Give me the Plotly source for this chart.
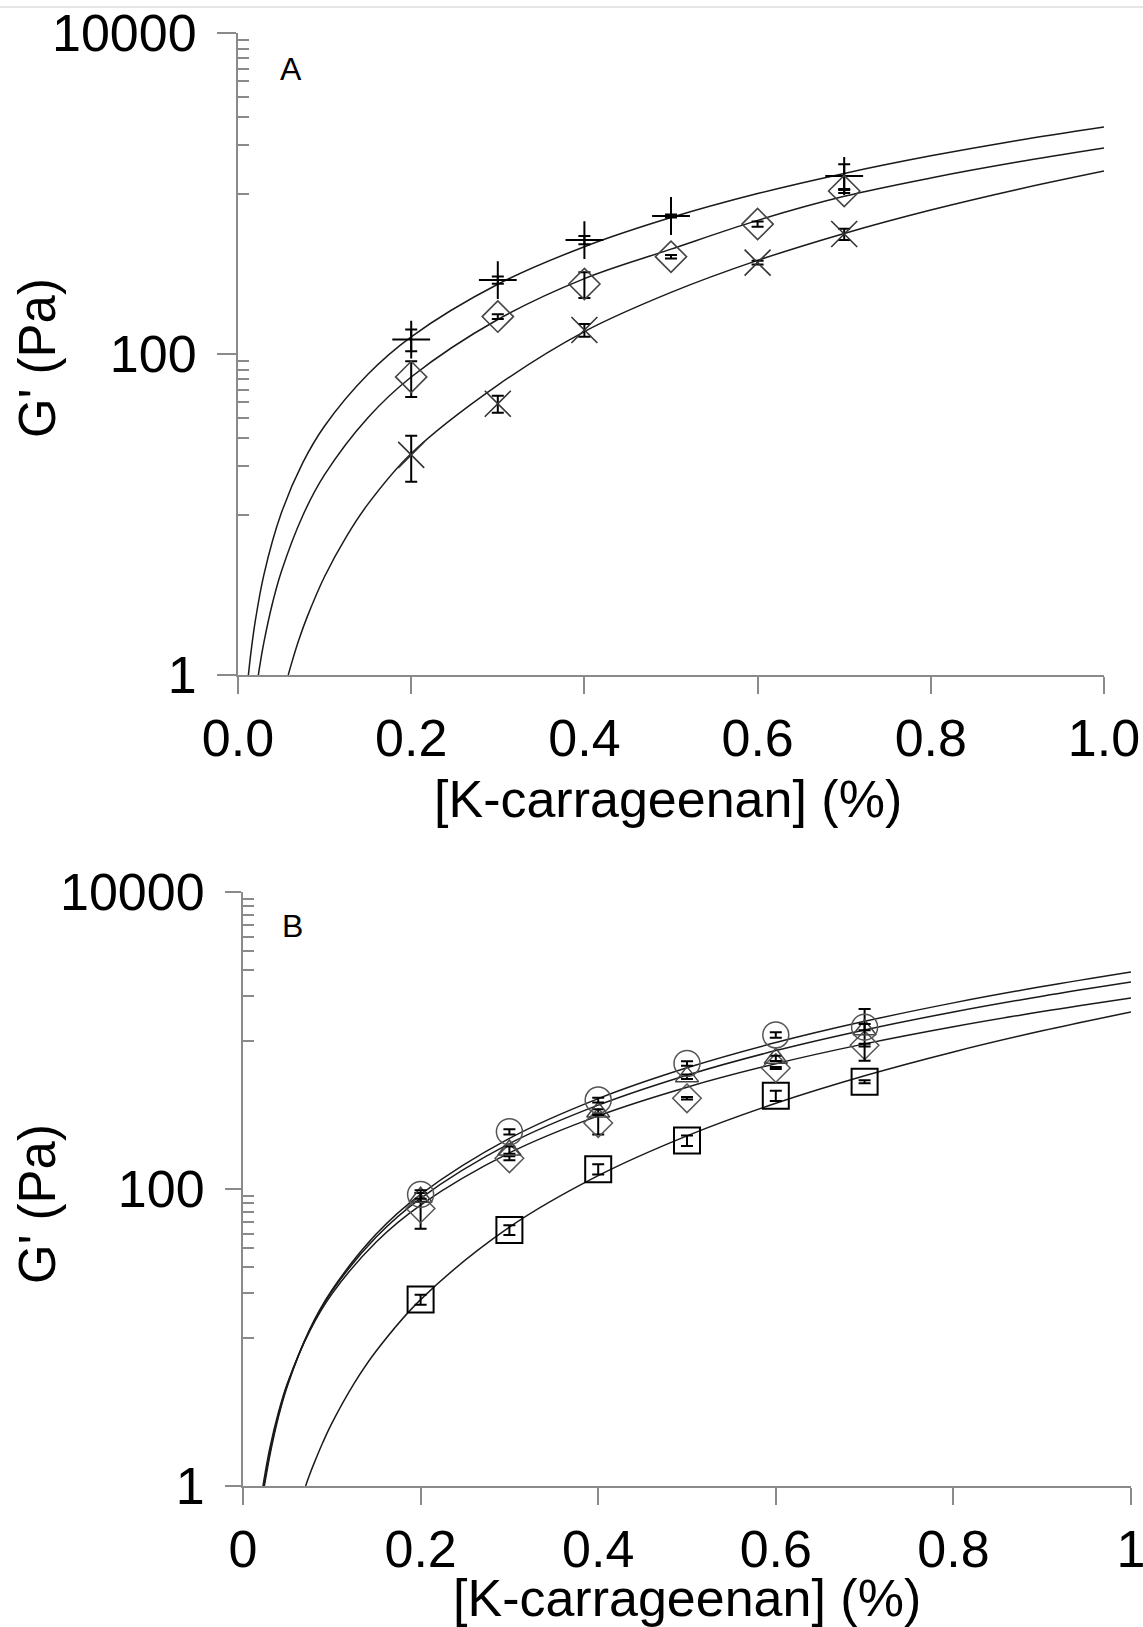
import plotly.graph_objects as go

W, H = 1143, 1627

# ---------------- Panel A data ----------------
conc_A_plus = [0.2, 0.3, 0.4, 0.5, 0.7]
g_A_plus = [123, 289, 513, 724, 1285]
err_A_plus = [19, 15, 30, 15, 235]

conc_A_diam = [0.2, 0.3, 0.4, 0.5, 0.6, 0.7]
g_A_diam = [72, 171, 273, 404, 645, 1037]
err_A_diam = [18, 6, 50, 10, 25, 30]

conc_A_x = [0.2, 0.3, 0.4, 0.6, 0.7]
g_A_x = [23.5, 49, 141, 371, 559]
err_A_x = [7.5, 6, 13, 10, 45]

# fitted curves
fit_A1_x = [0.012, 0.015, 0.02, 0.03, 0.05, 0.075, 0.1, 0.15, 0.2, 0.3, 0.4, 0.5, 0.6, 0.7, 0.8, 0.9, 1.0]
fit_A1_y = [1.0, 1.39, 2.18, 4.24, 10.2, 21.1, 35.6, 74.8, 128, 272, 466, 708, 999, 1334, 1716, 2142, 2600]

fit_A2_x = [0.0235, 0.027, 0.03, 0.04, 0.05, 0.075, 0.1, 0.15, 0.2, 0.3, 0.4, 0.5, 0.6, 0.7, 0.8, 0.9, 1.0]
fit_A2_y = [1.0, 1.31, 1.61, 2.83, 4.40, 9.9, 17.7, 40.1, 71.9, 164, 295, 450, 680, 960, 1250, 1570, 1920]

fit_A3_x = [0.058, 0.062, 0.07, 0.08, 0.1, 0.125, 0.15, 0.2, 0.3, 0.4, 0.5, 0.6, 0.7, 0.8, 0.9, 1.0]
fit_A3_y = [1.0, 1.19, 1.64, 2.31, 4.11, 7.26, 11.6, 24.0, 64, 138, 242, 383, 564, 789, 1060, 1380]

# ---------------- Panel B data ----------------
conc_B = [0.2, 0.3, 0.4, 0.5, 0.6, 0.7]
g_B_circ = [92, 243, 397, 700, 1090, 1230]
err_B_circ = [6, 10, 15, 25, 45, 60]
g_B_tri = [88, 183, 330, 571, 759, 1180]
err_B_tri = [6, 10, 15, 20, 30, 450]
g_B_diam = [74, 161, 278, 408, 653, 930]
err_B_diam = [20, 5, 45, 8, 10, 20]
g_B_sq = [18, 53, 136, 212, 425, 528]
err_B_sq = [1.4, 4, 11, 17, 34, 12]

fit_B1_x = [0.024, 0.027, 0.03, 0.04, 0.05, 0.075, 0.1, 0.15, 0.2, 0.3, 0.4, 0.5, 0.6, 0.7, 0.8, 0.9, 1.0]
fit_B1_y = [1.0, 1.26, 1.58, 2.93, 4.72, 11.3, 20.8, 49.7, 92.0, 219, 406, 655, 968, 1346, 1792, 2307, 2893]

fit_B2_x = [0.0235, 0.027, 0.03, 0.04, 0.05, 0.075, 0.1, 0.15, 0.2, 0.3, 0.4, 0.5, 0.6, 0.7, 0.8, 0.9, 1.0]
fit_B2_y = [1.0, 1.33, 1.66, 3.03, 4.82, 11.2, 20.4, 47.5, 86.6, 202, 367, 584, 855, 1178, 1556, 1989, 2477]

fit_B3_x = [0.0225, 0.025, 0.03, 0.04, 0.05, 0.075, 0.1, 0.15, 0.2, 0.3, 0.4, 0.5, 0.6, 0.7, 0.8, 0.9, 1.0]
fit_B3_y = [1.0, 1.23, 1.78, 3.15, 4.92, 11.0, 19.6, 44.0, 78.0, 175, 311, 485, 698, 949, 1238, 1565, 1932]

fit_B4_x = [0.0705, 0.075, 0.08, 0.09, 0.1, 0.125, 0.15, 0.2, 0.3, 0.4, 0.5, 0.6, 0.7, 0.8, 0.9, 1.0]
fit_B4_y = [1.0, 1.19, 1.42, 1.97, 2.64, 4.89, 8.11, 18.0, 55.3, 123, 228, 378, 579, 838, 1162, 1555]

x_ticks = [0, 0.2, 0.4, 0.6, 0.8, 1.0]
x_text_A = ["0.0", "0.2", "0.4", "0.6", "0.8", "1.0"]
x_text_B = ["0", "0.2", "0.4", "0.6", "0.8", "1"]
y_ticks = [1, 100, 10000]
y_text = ["1", "100", "10000"]
y_minor = [10, 20, 30, 40, 50, 60, 70, 80, 90,
           1000, 2000, 3000, 4000, 5000, 6000, 7000, 8000, 9000]

FONT = "Liberation Sans, Arial, sans-serif"
AXC = "#8a8a8a"
LINEC = "#1a1a1a"

fig = go.Figure()


def add_curve(x, y, xa, ya):
    fig.add_trace(go.Scatter(x=x, y=y, mode="lines", xaxis=xa, yaxis=ya,
                             line=dict(color=LINEC, width=1.5, shape="spline", smoothing=1.0),
                             hoverinfo="skip", showlegend=False))


def add_points(x, y, err, symbol, size, color, lw, xa, ya):
    fig.add_trace(go.Scatter(
        x=x, y=y, mode="markers", xaxis=xa, yaxis=ya, showlegend=False,
        marker=dict(symbol=symbol, size=size, color=color,
                    line=dict(color=color, width=lw)),
        error_y=dict(type="data", array=err, color="black", thickness=2, width=6)))


# Panel A
add_curve(fit_A1_x, fit_A1_y, "x", "y")
add_curve(fit_A2_x, fit_A2_y, "x", "y")
add_curve(fit_A3_x, fit_A3_y, "x", "y")
add_points(conc_A_plus, g_A_plus, err_A_plus, "cross-thin-open", 27, "black", 2, "x", "y")
add_points(conc_A_diam, g_A_diam, err_A_diam, "diamond-open", 24, "#444444", 1.6, "x", "y")
add_points(conc_A_x, g_A_x, err_A_x, "x-thin-open", 26, "#333333", 1.6, "x", "y")

# Panel B
add_curve(fit_B1_x, fit_B1_y, "x2", "y2")
add_curve(fit_B2_x, fit_B2_y, "x2", "y2")
add_curve(fit_B3_x, fit_B3_y, "x2", "y2")
add_curve(fit_B4_x, fit_B4_y, "x2", "y2")
add_points(conc_B, g_B_sq, err_B_sq, "square-open", 26, "black", 2, "x2", "y2")
add_points(conc_B, g_B_diam, err_B_diam, "diamond-open", 22, "#555555", 1.5, "x2", "y2")
add_points(conc_B, g_B_tri, err_B_tri, "triangle-up-open", 20, "#444444", 1.5, "x2", "y2")
add_points(conc_B, g_B_circ, err_B_circ, "circle-open", 26, "#555555", 1.5, "x2", "y2")


def xaxis(dom, texts, anchor):
    return dict(domain=dom, range=[0, 1.0], anchor=anchor, showgrid=False, zeroline=False,
                automargin=False,
                showline=True, linecolor=AXC, linewidth=2,
                tickmode="array", tickvals=x_ticks, ticktext=texts,
                ticks="outside", ticklen=17, tickwidth=2, tickcolor=AXC,
                ticklabelstandoff=0, ticklabeloverflow="allow",
                tickfont=dict(family=FONT, size=52, color="black"))


def yaxis(dom, anchor, ticklen):
    return dict(domain=dom, type="log", range=[0, 4], anchor=anchor, showgrid=False,
                zeroline=False, showline=True, linecolor=AXC, linewidth=2,
                automargin=False,
                tickmode="array", tickvals=y_ticks, ticktext=y_text,
                ticks="outside", ticklen=ticklen, tickwidth=2, tickcolor=AXC,
                ticklabelstandoff=10, ticklabeloverflow="allow",
                tickfont=dict(family=FONT, size=52, color="black"),
                minor=dict(tickmode="array", tickvals=y_minor, ticks="inside",
                           ticklen=11, tickwidth=2, tickcolor=AXC, showgrid=False))


fig.update_layout(
    template="none",
    width=W, height=H, margin=dict(l=0, r=0, t=0, b=0, autoexpand=False),
    paper_bgcolor="white", plot_bgcolor="white", showlegend=False,
    font=dict(family=FONT, color="black"),
    xaxis=xaxis([238 / W, 1104 / W], x_text_A, "y"),
    yaxis=yaxis([1 - 675 / H, 1 - 33 / H], "x", 19),
    xaxis2=xaxis([243 / W, 1131 / W], x_text_B, "y2"),
    yaxis2=yaxis([1 - 1486 / H, 1 - 892 / H], "x2", 16),
)

ann = []
ann.append(dict(text="G' (Pa)", x=37 / W, y=1 - 358 / H, xref="paper", yref="paper",
                textangle=-90, showarrow=False, xanchor="center", yanchor="middle",
                font=dict(family=FONT, size=51, color="black")))
ann.append(dict(text="G' (Pa)", x=37 / W, y=1 - 1204 / H, xref="paper", yref="paper",
                textangle=-90, showarrow=False, xanchor="center", yanchor="middle",
                font=dict(family=FONT, size=51, color="black")))
ann.append(dict(text="[K-carrageenan] (%)", x=668 / W, y=1 - 799 / H, xref="paper", yref="paper",
                showarrow=False, xanchor="center", yanchor="middle",
                font=dict(family=FONT, size=52, color="black")))
ann.append(dict(text="[K-carrageenan] (%)", x=687 / W, y=1 - 1598 / H, xref="paper", yref="paper",
                showarrow=False, xanchor="center", yanchor="middle",
                font=dict(family=FONT, size=52, color="black")))
ann.append(dict(text="A", x=291 / W, y=1 - 69 / H, xref="paper", yref="paper",
                showarrow=False, xanchor="center", yanchor="middle",
                font=dict(family=FONT, size=32, color="black")))
ann.append(dict(text="B", x=292 / W, y=1 - 926 / H, xref="paper", yref="paper",
                showarrow=False, xanchor="center", yanchor="middle",
                font=dict(family=FONT, size=32, color="black")))
fig.update_layout(annotations=ann)

fig.add_shape(type="line", xref="paper", yref="paper", x0=0, x1=1, y0=1 - 7 / H, y1=1 - 7 / H,
              line=dict(color="#e6e6e6", width=2))

fig.write_html("out.html")
